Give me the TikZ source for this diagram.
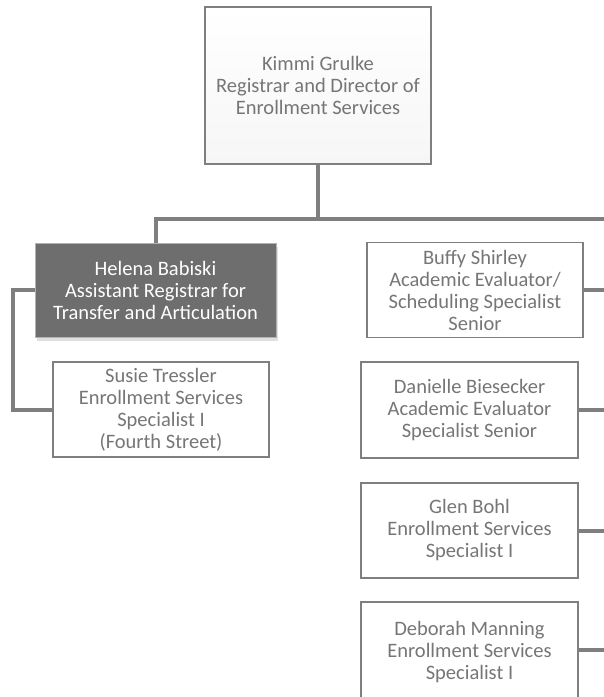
\documentclass[tikz,border=0pt]{standalone}
\usepackage{fontspec}
\setmainfont{Carlito}
\usetikzlibrary{shadows}

\definecolor{linegray}{HTML}{7F7F7F}
\definecolor{textgray}{HTML}{767676}
\definecolor{darkfill}{HTML}{6E6E6E}

\tikzset{
  person/.style={draw=linegray, line width=1.4pt, fill=white, text=textgray,
    align=center, inner sep=0pt, font=\fontsize{20.5}{22}\selectfont,
    minimum width=217pt, minimum height=95pt},
  conn/.style={draw=linegray, line width=4pt}
}

\begin{document}
\begin{tikzpicture}[x=1pt,y=-1pt]
\useasboundingbox (0,0) rectangle (604,697);

%top box
\node[person, top color=white, bottom color=gray!7, minimum width=226pt, minimum height=157pt]
  (kimmi) at (318,85.5) {Kimmi Grulke\\Registrar and Director of\\Enrollment Services};

%left branch
\node[person, fill=darkfill, text=white, draw=gray!60, line width=0.8pt,
  drop shadow={opacity=0.25, shadow xshift=2pt, shadow yshift=-4pt},
  minimum width=241pt, minimum height=94pt]
  (helena) at (155.5,290) {Helena Babiski\\Assistant Registrar for\\Transfer and Articulation};
\node[person, minimum width=216pt]
  (susie) at (161,409.5) {Susie Tressler\\Enrollment Services\\Specialist I\\(Fourth Street)};

%right column
\node[person, minimum width=216pt]
  (buffy) at (475,290) {Buffy Shirley\\Academic Evaluator/\\Scheduling Specialist\\Senior};
\node[person, minimum height=96pt]
  (danielle) at (469.5,410) {Danielle Biesecker\\Academic Evaluator\\Specialist Senior};
\node[person]
  (glen) at (469.5,530.5) {Glen Bohl\\Enrollment Services\\Specialist I};
% runs past the lower edge
\node[person, minimum height=100pt]
  (deborah) at (469.5,652) {Deborah Manning\\Enrollment Services\\Specialist I};

%bus and its right end
\coordinate (busR) at (610,218.5);
\draw[conn] (kimmi.south) -- (kimmi.south |- busR);
\draw[conn] (helena.north) -- (helena.north |- busR) -- (busR);
\draw[conn] (helena.west) -- ++(-22,0) |- (susie.west);

%right stubs
\foreach \n in {buffy,danielle,glen}
  \draw[conn] (\n.east) -- (\n.east -| busR);
\draw[conn] ([yshift=2pt]deborah.east) -- ([yshift=2pt]deborah.east -| busR);

\end{tikzpicture}
\end{document}
